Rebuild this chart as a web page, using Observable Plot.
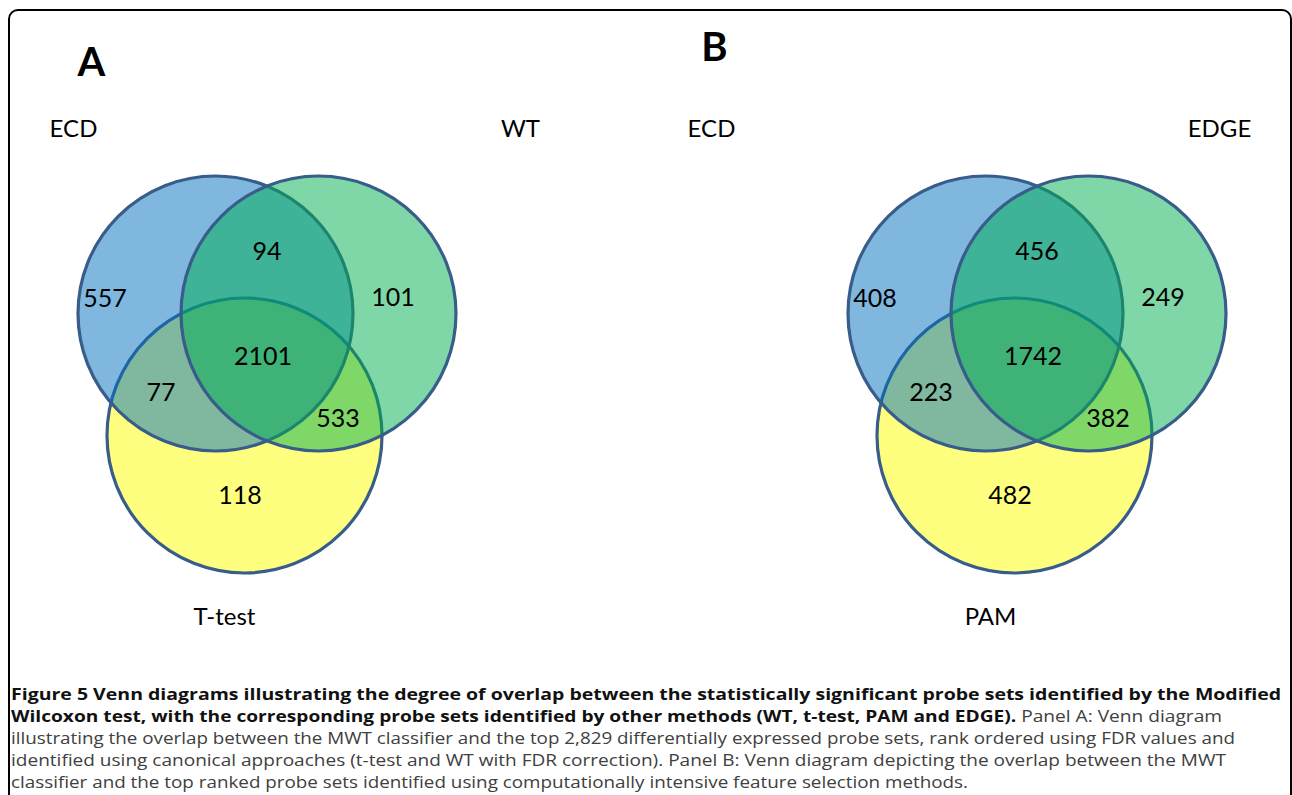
<!DOCTYPE html>
<html>
<head>
<meta charset="utf-8">
<script src="https://cdn.jsdelivr.net/npm/d3@7"></script>
<script src="https://cdn.jsdelivr.net/npm/@observablehq/plot@0.6"></script>
<style>
  html, body { margin: 0; padding: 0; background: #fff; width: 1292px; height: 795px; overflow: hidden; }
  #frame { position: absolute; left: 8px; top: 9px; width: 1280px; height: 900px; border: 2px solid #000; border-radius: 10px; box-sizing: content-box; }
  #chart { position: absolute; left: 0; top: 0; }
  #caption { position: absolute; left: 11px; top: 683px; font-family: "Open Sans", sans-serif; font-size: 16.5px; line-height: 22px; color: #404040; }
  #caption div { white-space: nowrap; height: 22px; }
  #caption span { display: inline-block; transform-origin: 0 50%; }
  #caption b { color: #111; font-weight: 700; }
</style>
</head>
<body>
<div id="frame"></div>
<div id="chart"></div>
<div id="caption"></div>
<script>
// ---- data ----
const panels = ["A", "B"];
const setNamesA = ["ECD", "WT", "T-test"];
const setNamesB = ["ECD", "EDGE", "PAM"];
const regionKeys = ["1", "1&2", "2", "1&2&3", "1&3", "2&3", "3"];
const countsA = [557, 94, 101, 2101, 77, 533, 118];
const countsB = [408, 456, 249, 1742, 223, 382, 482];
const setColors = ["#0070C0", "#00B050", "#FFFF00"];
const captionLines = [
  ["Figure 5 Venn diagrams illustrating the degree of overlap between the statistically significant probe sets identified by the Modified", ""],
  ["Wilcoxon test, with the corresponding probe sets identified by other methods (WT, t-test, PAM and EDGE).", " Panel A: Venn diagram"],
  ["", "illustrating the overlap between the MWT classifier and the top 2,829 differentially expressed probe sets, rank ordered using FDR values and"],
  ["", "identified using canonical approaches (t-test and WT with FDR correction). Panel B: Venn diagram depicting the overlap between the MWT"],
  ["", "classifier and the top ranked probe sets identified using computationally intensive feature selection methods."]
];
const captionLineWidths = [1270, 1211, 1224, 1215, 957];

// ---- layout (page units) ----
const W = 1292, H = 680;
const R = 137.5;
const panelOrigin = {A: [266.5, 313], B: [1036.5, 313]};
const circleOffset = [[-51.5, 0], [51.5, 0], [-22.5, 122]];
const drawOrder = [2, 0, 1];
const regionOffset = [[-162, -15], [0, -62], [126, -16], [-4, 43], [-106, 79], [71, 105], [-27, 182]];
const setLabelPos = {A: [[73, 129], [520, 129], [224, 617]], B: [[711, 129], [1219, 129], [990, 617]]};
const panelLetterPos = {A: [91, 63], B: [714, 48]};

const circles = [];
const regionLabels = [];
const setLabels = [];
const letters = [];
for (const p of panels) {
  const [ox, oy] = panelOrigin[p];
  const names = p === "A" ? setNamesA : setNamesB;
  const counts = p === "A" ? countsA : countsB;
  for (const i of drawOrder) {
    circles.push({panel: p, set: names[i], x: ox + circleOffset[i][0], y: oy + circleOffset[i][1], color: setColors[i]});
  }
  regionKeys.forEach((k, j) => {
    regionLabels.push({panel: p, region: k, count: counts[j], x: ox + regionOffset[j][0], y: oy + regionOffset[j][1]});
  });
  names.forEach((n, i) => setLabels.push({panel: p, name: n, x: setLabelPos[p][i][0], y: setLabelPos[p][i][1]}));
  letters.push({panel: p, x: panelLetterPos[p][0], y: panelLetterPos[p][1]});
}

const chart = Plot.plot({
  width: W,
  height: H,
  margin: 0,
  x: {domain: [0, W], range: [0, W], axis: null},
  y: {domain: [0, H], range: [0, H], axis: null},
  style: {background: "transparent"},
  marks: [
    Plot.dot(circles, {x: "x", y: "y", r: R, fill: "color", fillOpacity: 0.5, stroke: "#385D8A", strokeWidth: 3.2}),
    Plot.text(regionLabels, {x: "x", y: "y", text: d => String(d.count), fontSize: 25, fontFamily: "Lato", fill: "#000"}),
    Plot.text(setLabels, {x: "x", y: "y", text: "name", fontSize: 24, fontFamily: "Lato", fill: "#000"}),
    Plot.text(letters, {x: "x", y: "y", text: "panel", fontSize: 40, fontWeight: "bold", fontFamily: "Lato", fill: "#000"})
  ]
});
document.getElementById("chart").append(chart);

const cap = document.getElementById("caption");
captionLines.forEach(([b, r], i) => {
  const div = document.createElement("div");
  const span = document.createElement("span");
  if (b) { const el = document.createElement("b"); el.textContent = b; span.append(el); }
  if (r) span.append(document.createTextNode(r));
  div.append(span);
  cap.append(div);
  const w = span.getBoundingClientRect().width;
  if (w > 0) span.style.transform = `scaleX(${captionLineWidths[i] / w})`;
});
</script>
</body>
</html>
